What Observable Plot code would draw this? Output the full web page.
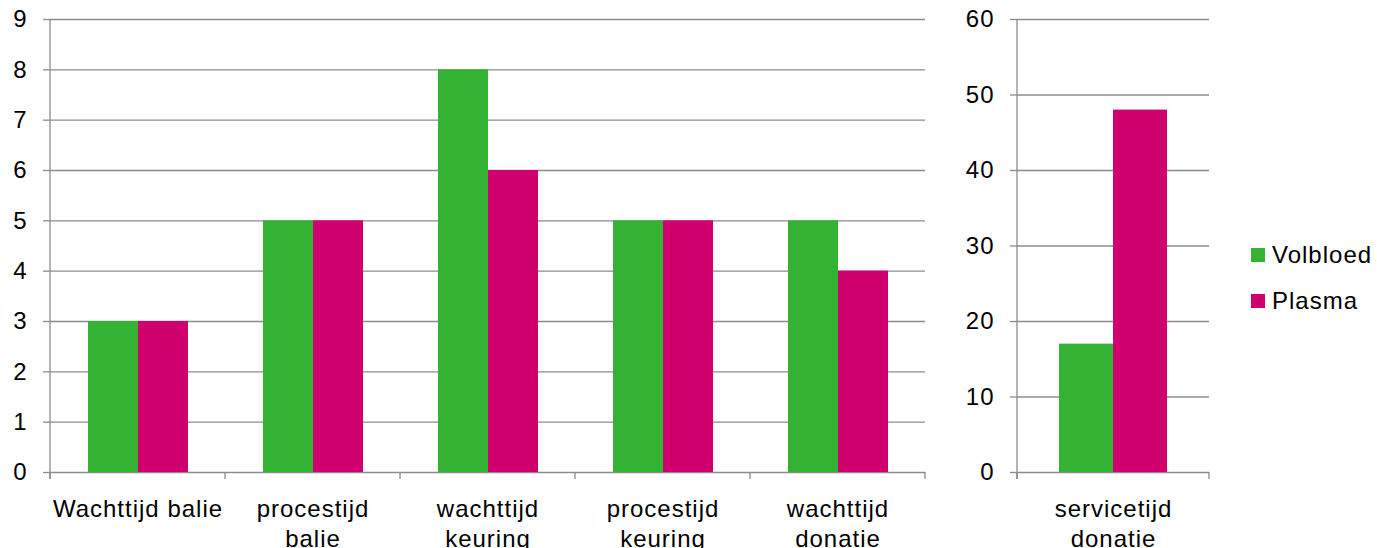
<!DOCTYPE html>
<html>
<head>
<meta charset="utf-8">
<script src="https://cdn.jsdelivr.net/npm/d3@7"></script>
<script src="https://cdn.jsdelivr.net/npm/@observablehq/plot@0.6"></script>
<style>
  body { margin: 0; background: #fff; }
  #wrap { position: relative; width: 1377px; height: 548px; font-family: "Liberation Sans", Arial, sans-serif; }
  .panel { position: absolute; top: 0; }
  .panel svg text { letter-spacing: 1px; }
  .legend { position: absolute; left: 1251px; top: 241px; font-size: 24px; letter-spacing: 1px; color: #000; }
  .legend .item { display: flex; align-items: center; height: 28px; margin-bottom: 18px; }
  .legend .sw { width: 14px; height: 14px; margin-right: 7px; }
</style>
</head>
<body>
<div id="wrap"></div>
<script>
// ---- data ----
const series = ["Volbloed", "Plasma"];
const colors = ["#34b233", "#d0006f"];

const categories = ["Wachttijd balie", "procestijd balie", "wachttijd keuring", "procestijd keuring", "wachttijd donatie"];
const tickLabels = ["Wachttijd balie", "procestijd\nbalie", "wachttijd\nkeuring", "procestijd\nkeuring", "wachttijd\ndonatie"];
const volbloed = [3, 5, 8, 5, 5];
const plasma = [3, 5, 6, 5, 4];
const yTicks = [0, 1, 2, 3, 4, 5, 6, 7, 8, 9];

const categories2 = ["servicetijd donatie"];
const tickLabels2 = ["servicetijd\ndonatie"];
const volbloed2 = [17];
const plasma2 = [48];
const yTicks2 = [0, 10, 20, 30, 40, 50, 60];

function rows(cats, a, b) {
  return cats.flatMap((c, i) => [
    {cat: c, series: series[0], value: a[i]},
    {cat: c, series: series[1], value: b[i]}
  ]);
}

const gray = "#8c8c8c";

function panel({cats, labels, a, b, ticks, width, marginLeft, marginRight, left}) {
  const data = rows(cats, a, b);
  const yMax = ticks[ticks.length - 1];
  const p = Plot.plot({
    width, height: 548,
    marginTop: 19, marginBottom: 76, marginLeft, marginRight,
    style: {fontFamily: "Liberation Sans, Arial, sans-serif", fontSize: "24px", color: "#000", background: "transparent", overflow: "visible"},
    fx: {domain: cats, paddingInner: 0, paddingOuter: 0, axis: null, label: null},
    x: {domain: series, paddingInner: 0, paddingOuter: 0.75, axis: null},
    y: {domain: [0, yMax], axis: null},
    color: {domain: series, range: colors},
    marks: [
      Plot.gridY(ticks, {stroke: gray, strokeOpacity: 1, strokeWidth: 1.3}),
      Plot.axisY(ticks, {tickSize: 7, tickPadding: 16, stroke: gray, strokeWidth: 1.3, fill: "#000", fontSize: 24,
        tickFormat: d => String(d), label: null}),
      Plot.barY(data, {fx: "cat", x: "series", y: "value", fill: "series"}),
      Plot.axisFx({anchor: "bottom", tickSize: 0, tickPadding: 23, fontSize: 24, lineHeight: 1.25, fill: "#000",
        tickFormat: d => labels[cats.indexOf(d)], label: null})
    ]
  });
  const svg = d3.select(p);
  const fx = p.scale("fx");
  const y = p.scale("y");
  const y0 = y.apply(0), yTop = y.apply(yMax);
  const bounds = cats.map(c => fx.apply(c));
  bounds.push(fx.apply(cats[cats.length - 1]) + fx.bandwidth);
  const g = svg.append("g").attr("stroke", gray).attr("stroke-width", 1.3);
  g.selectAll("line.b").data(bounds).join("line")
    .attr("x1", d => d).attr("x2", d => d)
    .attr("y1", y0).attr("y2", y0 + 7);
  g.append("line").attr("x1", bounds[0]).attr("x2", bounds[0]).attr("y1", yTop).attr("y2", y0 + 7);
  const div = document.createElement("div");
  div.className = "panel";
  div.style.left = left + "px";
  div.appendChild(p);
  return div;
}

const wrap = document.getElementById("wrap");
wrap.appendChild(panel({cats: categories, labels: tickLabels, a: volbloed, b: plasma, ticks: yTicks,
  width: 940, marginLeft: 50, marginRight: 15, left: 0}));
wrap.appendChild(panel({cats: categories2, labels: tickLabels2, a: volbloed2, b: plasma2, ticks: yTicks2,
  width: 290, marginLeft: 82, marginRight: 16, left: 935}));

const legend = document.createElement("div");
legend.className = "legend";
series.forEach((s, i) => {
  const item = document.createElement("div");
  item.className = "item";
  const sw = document.createElement("span");
  sw.className = "sw";
  sw.style.background = colors[i];
  const t = document.createElement("span");
  t.textContent = s;
  item.appendChild(sw);
  item.appendChild(t);
  legend.appendChild(item);
});
wrap.appendChild(legend);
</script>
</body>
</html>
